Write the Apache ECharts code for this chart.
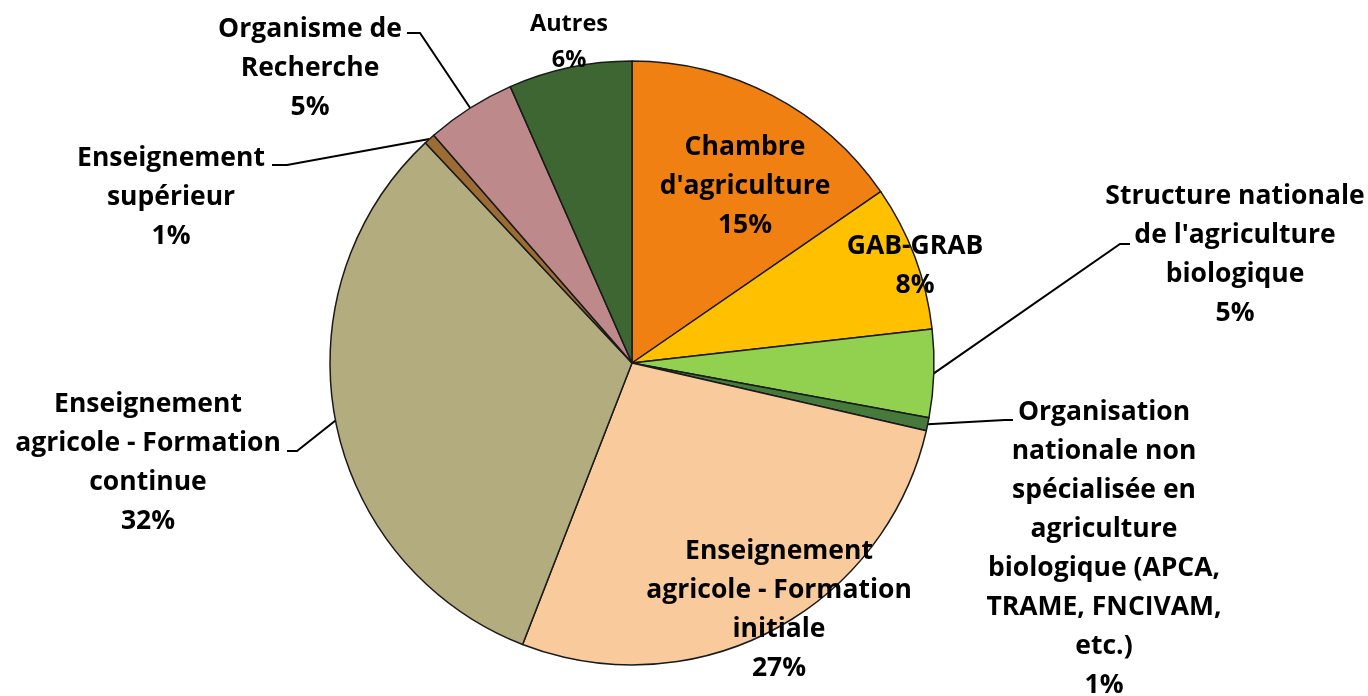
<!DOCTYPE html>
<html>
<head>
<meta charset="utf-8">
<script src="https://cdn.jsdelivr.net/npm/echarts@6/dist/echarts.min.js"></script>
<style>
  html, body { margin: 0; padding: 0; background: #fff; }
  #pieChart { width: 1368px; height: 696px; }
</style>
</head>
<body>
<div id="pieChart"></div>
<script>
// data (clockwise from 12 o'clock)
var categories = [
  'Chambre\nd\'agriculture',
  'GAB-GRAB',
  'Structure nationale\nde l\'agriculture\nbiologique',
  'Organisation\nnationale non\nspécialisée en\nagriculture\nbiologique (APCA,\nTRAME, FNCIVAM,\netc.)',
  'Enseignement\nagricole - Formation\ninitiale',
  'Enseignement\nagricole - Formation\ncontinue',
  'Enseignement\nsupérieur',
  'Organisme de\nRecherche',
  'Autres'
]
var shares = [15.4, 7.8, 4.7, 0.7, 27.3, 32.1, 0.6, 4.8, 6.6]
var pctLabels = [15, 8, 5, 1, 27, 32, 1, 5, 6]

// styling / placement
var colors = ['#EF8011', '#FFC000', '#92D050', '#467A3C', '#F9CB9C', '#B3AC7E', '#9C6C34', '#BD898A', '#3D6633']
var labelPos = [
  [745, 186], [915, 266], [1235, 255], [1104, 549], [779, 610],
  [148, 463], [171, 197], [310, 68], [569, 42]
]
var bendPts = [
  null, null,
  [[1120, 244], [1130, 244]],
  [[1005, 420], [1013, 420]],
  null,
  [[297, 451], [287, 451]],
  [[287, 165], [272, 165]],
  [[420, 33], [407, 33]],
  null
]

var option = {
  animation: false,
  backgroundColor: '#fff',
  color: colors,
  series: [
    {
      type: 'pie',
      center: [632, 363],
      radius: 302,
      startAngle: 90,
      clockwise: true,
      avoidLabelOverlap: false,
      itemStyle: {
        borderColor: '#1a1a1a',
        borderWidth: 1.5
      },
      label: {
        show: true,
        position: 'outside',
        color: '#000',
        fontFamily: 'Open Sans',
        fontWeight: 'bold',
        fontSize: 26.5,
        lineHeight: 39,
        align: 'center',
        formatter: function (p) {
          return p.name + '\n' + pctLabels[p.dataIndex] + '%'
        }
      },
      labelLine: {
        show: true,
        lineStyle: { color: '#000', width: 2 }
      },
      labelLayout: function (params) {
        var i = params.dataIndex
        var out = { x: labelPos[i][0], y: labelPos[i][1], align: 'center', verticalAlign: 'middle' }
        if (bendPts[i] && params.labelLinePoints) {
          out.labelLinePoints = [params.labelLinePoints[0], bendPts[i][0], bendPts[i][1]]
        }
        return out
      },
      data: categories.map(function (name, i) {
        var item = { name: name, value: shares[i] }
        if (!bendPts[i]) item.labelLine = { show: false }
        // the "Autres" label is set a little smaller
        if (i === categories.length - 1) item.label = { fontSize: 23.5, lineHeight: 36 }
        return item
      })
    }
  ]
}

var myChart = echarts.init(document.getElementById('pieChart'))
myChart.setOption(option)
</script>
</body>
</html>
